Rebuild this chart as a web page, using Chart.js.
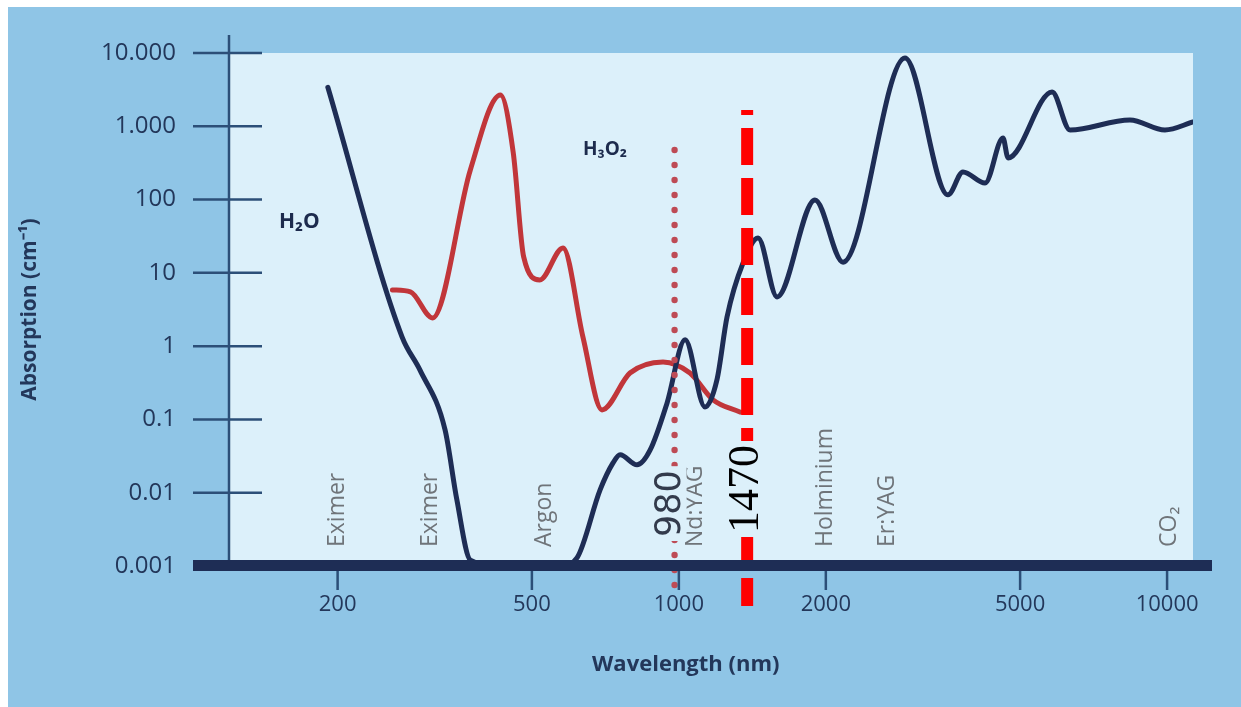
<!DOCTYPE html>
<html>
<head>
<meta charset="utf-8">
<script src="https://cdn.jsdelivr.net/npm/chart.js@4.4.1/dist/chart.umd.min.js"></script>
<style>
  html, body { margin: 0; padding: 0; background: #fff; }
  #wrap { width: 1241px; height: 707px; }
</style>
</head>
<body>
<div id="wrap"><canvas id="chart" width="1241" height="707"></canvas></div>
<script>
// axis ticks
const xTicks = [200, 500, 1000, 2000, 5000, 10000];
const yTicks = [0.001, 0.01, 0.1, 1, 10, 100, 1000, 10000];
const yTickLabels = ['0.001', '0.01', '0.1', '1', '10', '100', '1.000', '10.000'];

// water absorption
const h2oWavelength = [191, 271, 295, 332, 351, 374, 430, 572, 619, 690, 733, 758, 821, 873, 946, 1030, 1131, 1197, 1255, 1353, 1453, 1589, 1900, 2169, 2905, 3558, 3819, 4238, 4612, 4724, 5813, 6328, 8395, 9900, 11300];
const h2oAbsorption = [3400, 1.34, 0.47, 0.072, 0.008, 0.0012, 0.001, 0.001, 0.0013, 0.011, 0.0255, 0.033, 0.024, 0.038, 0.168, 1.22, 0.148, 0.35, 2.5, 13.6, 30, 4.7, 99, 14, 8550, 116, 238, 168, 692, 370, 2940, 890, 1220, 890, 1145];

// oxyhaemoglobin absorption
const hbo2Wavelength = [259, 282, 313, 374, 431, 458, 481, 519, 579, 636, 696, 794, 928, 1054, 1175, 1334];
const hbo2Absorption = [5.85, 5.5, 2.43, 254, 2670, 432, 16.5, 8.0, 21.9, 1.34, 0.135, 0.43, 0.61, 0.43, 0.185, 0.126];

// laser names along the bottom
const laserNames = ['Eximer', 'Eximer', 'Argon', 'Nd:YAG', 'Holminium', 'Er:YAG', 'CO₂'];
const laserWavelength = [200, 310, 530, 1080, 2000, 2680, 10100];

// marker lines
const markerWavelength = [980, 1380];
const markerTop = [475, 1670];
const markerLabels = ['980', '1470'];

// curve names
const curveNames = ['H₂O', 'H₃O₂'];
const curveNameX = [167, 706];
const curveNameY = [49, 475];

const NAVY = '#1e2d55';
const AXIS = '#2c4f78';
const TEXT = '#23375a';
const PLOT_BG = '#dcf0fa';

function rotatedText(ctx, text, x, y, font, color, bg, pad) {
  ctx.save();
  ctx.translate(x, y);
  ctx.rotate(-Math.PI / 2);
  ctx.font = font;
  ctx.textAlign = 'left';
  ctx.textBaseline = 'middle';
  if (bg) {
    const w = ctx.measureText(text).width;
    ctx.fillStyle = bg;
    ctx.fillRect(-pad, -pad * 4, w + pad * 2, pad * 8);
  }
  ctx.fillStyle = color;
  ctx.fillText(text, 0, 0);
  ctx.restore();
}

const decor = {
  id: 'decor',
  beforeDraw(chart) {
    const { ctx, chartArea: a } = chart;
    ctx.save();
    ctx.fillStyle = '#ffffff';
    ctx.fillRect(0, 0, chart.width, chart.height);
    ctx.fillStyle = '#8fc5e6';
    ctx.fillRect(8, 7, chart.width - 8, chart.height - 7);
    ctx.fillStyle = PLOT_BG;
    ctx.fillRect(a.left, a.top, a.right - a.left, a.bottom - a.top);
    ctx.restore();
  },
  beforeDatasetsDraw(chart) {
    const { ctx, chartArea: a, scales: { y } } = chart;
    ctx.save();
    ctx.strokeStyle = AXIS;
    ctx.lineWidth = 2.5;
    ctx.beginPath();
    ctx.moveTo(a.left - 1, a.top - 18);
    ctx.lineTo(a.left - 1, a.bottom);
    yTicks.slice(1).forEach(v => {
      const py = y.getPixelForValue(v);
      ctx.moveTo(a.left - 37, py);
      ctx.lineTo(a.left + 32, py);
    });
    ctx.stroke();
    ctx.restore();
  },
  afterDatasetsDraw(chart) {
    const { ctx, chartArea: a, scales: { x, y } } = chart;
    ctx.save();

    // laser names
    laserNames.forEach((name, i) => {
      rotatedText(ctx, name, x.getPixelForValue(laserWavelength[i]), a.bottom - 19,
        '23px "Open Sans"', '#6f7479');
    });

    // curve names
    ctx.fillStyle = '#1d2b4d';
    ctx.textAlign = 'center';
    ctx.textBaseline = 'middle';
    ctx.font = 'bold 21px "Open Sans"';
    ctx.fillText(curveNames[0], x.getPixelForValue(curveNameX[0]), y.getPixelForValue(curveNameY[0]));
    ctx.font = 'bold 19px "Open Sans"';
    ctx.fillText(curveNames[1], x.getPixelForValue(curveNameX[1]), y.getPixelForValue(curveNameY[1]));

    // 980 dotted line
    const dx = x.getPixelForValue(markerWavelength[0]);
    ctx.fillStyle = '#be4b55';
    for (let py = y.getPixelForValue(markerTop[0]); py <= a.bottom + 22; py += 15) {
      ctx.beginPath();
      ctx.arc(dx, py, 3.2, 0, Math.PI * 2);
      ctx.fill();
    }

    // 1470 dashed line
    const rx = x.getPixelForValue(markerWavelength[1]);
    ctx.strokeStyle = '#ff0000';
    ctx.lineWidth = 12;
    ctx.setLineDash([37, 13]);
    ctx.lineDashOffset = 32;
    ctx.beginPath();
    ctx.moveTo(rx, y.getPixelForValue(markerTop[1]));
    ctx.lineTo(rx, a.bottom + 40);
    ctx.stroke();
    ctx.setLineDash([]);

    // bottom bar
    ctx.fillStyle = NAVY;
    ctx.fillRect(a.left - 37, a.bottom - 6, (a.right + 19) - (a.left - 37), 11);

    // x tick marks under the bar
    ctx.strokeStyle = AXIS;
    ctx.lineWidth = 2.5;
    ctx.beginPath();
    xTicks.forEach(v => {
      const px = x.getPixelForValue(v);
      ctx.moveTo(px, a.bottom + 5);
      ctx.lineTo(px, a.bottom + 24);
    });
    ctx.stroke();

    // marker labels
    rotatedText(ctx, markerLabels[0], dx - 4, a.bottom - 29, '35px "DejaVu Sans"', '#333b4c', PLOT_BG, 4);
    rotatedText(ctx, markerLabels[1], rx - 1, a.bottom - 33, '44px "Liberation Serif"', '#000000', PLOT_BG, 4);

    ctx.restore();
  }
};

new Chart(document.getElementById('chart'), {
  type: 'line',
  data: {
    datasets: [
      {
        label: 'H2O',
        data: h2oWavelength.map((w, i) => ({ x: w, y: h2oAbsorption[i] })),
        borderColor: NAVY,
        borderWidth: 5,
        pointRadius: 0,
        cubicInterpolationMode: 'monotone',
        borderCapStyle: 'round',
        borderJoinStyle: 'round'
      },
      {
        label: 'HbO2',
        data: hbo2Wavelength.map((w, i) => ({ x: w, y: hbo2Absorption[i] })),
        borderColor: '#c1363a',
        borderWidth: 5,
        pointRadius: 0,
        cubicInterpolationMode: 'monotone',
        borderCapStyle: 'round',
        borderJoinStyle: 'round'
      }
    ]
  },
  options: {
    responsive: false,
    animation: false,
    devicePixelRatio: 1,
    layout: { padding: { left: 17, top: 53, right: 48, bottom: 29 } },
    plugins: { legend: { display: false }, tooltip: { enabled: false } },
    scales: {
      x: {
        type: 'logarithmic',
        min: 120.4,
        max: 11300,
        grid: { display: false, drawTicks: false },
        border: { display: false },
        afterBuildTicks: s => { s.ticks = xTicks.map(v => ({ value: v })); },
        afterFit: s => { s.height = 112; },
        ticks: {
          autoSkip: false,
          maxRotation: 0,
          padding: 26,
          color: TEXT,
          font: { family: 'Open Sans', size: 22 },
          callback: (v, i) => String(xTicks[i])
        },
        title: {
          display: true,
          text: 'Wavelength (nm)         ',
          color: TEXT,
          padding: 0,
          font: { family: 'Open Sans', size: 22, weight: 'bold' }
        }
      },
      y: {
        type: 'logarithmic',
        min: 0.001,
        max: 10000,
        grid: { display: false, drawTicks: false },
        border: { display: false },
        afterBuildTicks: s => { s.ticks = yTicks.map(v => ({ value: v })); },
        afterFit: s => { s.width = 213; s.paddingTop = 0; s.paddingBottom = 0; },
        ticks: {
          padding: 54,
          color: TEXT,
          font: { family: 'Open Sans', size: 24 },
          callback: (v, i) => yTickLabels[i]
        },
        title: {
          display: true,
          text: 'Absorption (cm⁻¹)',
          color: TEXT,
          padding: 0,
          font: { family: 'Open Sans', size: 21, weight: 'bold' }
        }
      }
    }
  },
  plugins: [decor]
});
</script>
</body>
</html>
